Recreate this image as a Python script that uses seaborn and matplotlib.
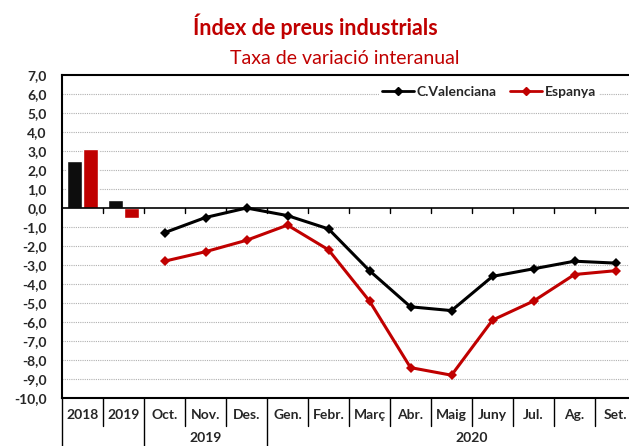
import matplotlib
matplotlib.use("Agg")
import matplotlib.pyplot as plt
import seaborn as sns
import pandas as pd
from matplotlib.lines import Line2D

categories = ["2018", "2019", "Oct.", "Nov.", "Des.", "Gen.", "Febr.", "Març",
              "Abr.", "Maig", "Juny", "Jul.", "Ag.", "Set."]
bar_cats = ["2018", "2019"]
bar_cv = [2.5, 0.4]
bar_esp = [3.1, -0.5]
line_cats = ["Oct.", "Nov.", "Des.", "Gen.", "Febr.", "Març", "Abr.", "Maig",
             "Juny", "Jul.", "Ag.", "Set."]
line_cv = [-1.3, -0.5, 0.0, -0.4, -1.1, -3.3, -5.2, -5.4, -3.6, -3.2, -2.8, -2.9]
line_esp = [-2.8, -2.3, -1.7, -0.9, -2.2, -4.9, -8.4, -8.8, -5.9, -4.9, -3.5, -3.3]
series_names = ["C.Valenciana", "Espanya"]
group_labels = ["2019", "2020"]
yticks = list(range(-10, 8))

RED = "#C00000"
BLACK = "#0D0D0D"

sns.set_style("white")
plt.rcParams["font.family"] = ["Lato", "DejaVu Sans"]

W, H = 629, 446
fig = plt.figure(figsize=(W / 100, H / 100), dpi=100)
left, right, top, bottom = 62, 636, 75, 398
ax = fig.add_axes([left / W, 1 - bottom / H, (right - left) / W, (bottom - top) / H])

bars = pd.DataFrame({
    "cat": bar_cats * 2,
    "val": bar_cv + bar_esp,
    "serie": [series_names[0]] * 2 + [series_names[1]] * 2,
})
sns.barplot(data=bars, x="cat", y="val", hue="serie", order=categories,
            hue_order=series_names, palette=[BLACK, RED], width=0.78, gap=0.1,
            legend=False, ax=ax, saturation=1)

pos = [categories.index(c) for c in line_cats]
lines = pd.DataFrame({
    "x": pos * 2,
    "val": line_cv + line_esp,
    "serie": [series_names[0]] * len(pos) + [series_names[1]] * len(pos),
})
sns.lineplot(data=lines, x="x", y="val", hue="serie", hue_order=series_names,
             palette=["black", RED], marker="D", markersize=5, linewidth=2.2,
             markeredgewidth=0, legend=False, ax=ax)

ax.set_xlim(-0.5, len(categories) - 0.5)
ax.set_ylim(-10, 7)
ax.set_yticks(yticks)
ax.set_yticklabels([f"{v:.1f}".replace(".", ",") for v in yticks],
                   fontsize=10, fontweight="bold")
for v in yticks[1:-1]:
    if v != 0:
        ax.axhline(v, color="#B0B0B0", linestyle=(0, (1, 1)), linewidth=0.8, zorder=0)
ax.axhline(0, color="black", linewidth=1.2, zorder=3)
for k in range(1, len(categories)):
    ax.plot([k - 0.5, k - 0.5], [0, -0.27], color="black", linewidth=1.0, zorder=3)

ax.set_xticks(range(len(categories)))
ax.set_xticklabels(categories, fontsize=10, fontweight="bold")
ax.tick_params(axis="x", length=0, pad=8)
ax.tick_params(axis="y", length=0, pad=11)
ax.set_xlabel("")
ax.set_ylabel("")

for s in ["left", "top", "bottom"]:
    ax.spines[s].set_color("black")
    ax.spines[s].set_linewidth(1.5)
ax.spines["right"].set_visible(False)

tr = ax.get_xaxis_transform()
short_y = -(426 - bottom) / (bottom - top)
long_y = -(H - bottom + 2) / (bottom - top)
long_bounds = [-0.5, 1.5, 4.5]
for k in range(len(categories)):
    b = k - 0.5
    y2 = long_y if b in long_bounds else short_y
    ax.plot([b, b], [0, y2], transform=tr, color="black", linewidth=1.0, clip_on=False)

gy = -(438 - bottom) / (bottom - top)
ax.text(3, gy, group_labels[0], transform=tr, ha="center", va="center",
        fontsize=10, fontweight="bold")
ax.text(9.5, gy, group_labels[1], transform=tr, ha="center", va="center",
        fontsize=10, fontweight="bold")

handles = [Line2D([], [], color="black", marker="D", markersize=4, linewidth=2),
           Line2D([], [], color=RED, marker="D", markersize=4, linewidth=2)]
leg = ax.legend(handles, series_names, loc="center right",
                bbox_to_anchor=(0.948, 0.947), frameon=True, fancybox=False,
                ncol=2, handlelength=2.3, handletextpad=0.2, columnspacing=1.0,
                borderpad=0.2, prop={"weight": "bold", "size": 10})
leg.get_frame().set_edgecolor("none")
leg.get_frame().set_facecolor("white")
leg.get_frame().set_alpha(1)

fig.text(315 / W, 1 - 26 / H, "Índex de preus industrials", ha="center", va="center",
         color=RED, fontsize=15.5, fontweight="bold")
fig.text(345 / W, 1 - 59 / H, "Taxa de variació interanual", ha="center", va="center",
         color=RED, fontsize=14)

fig.savefig("out.png", dpi=100)
